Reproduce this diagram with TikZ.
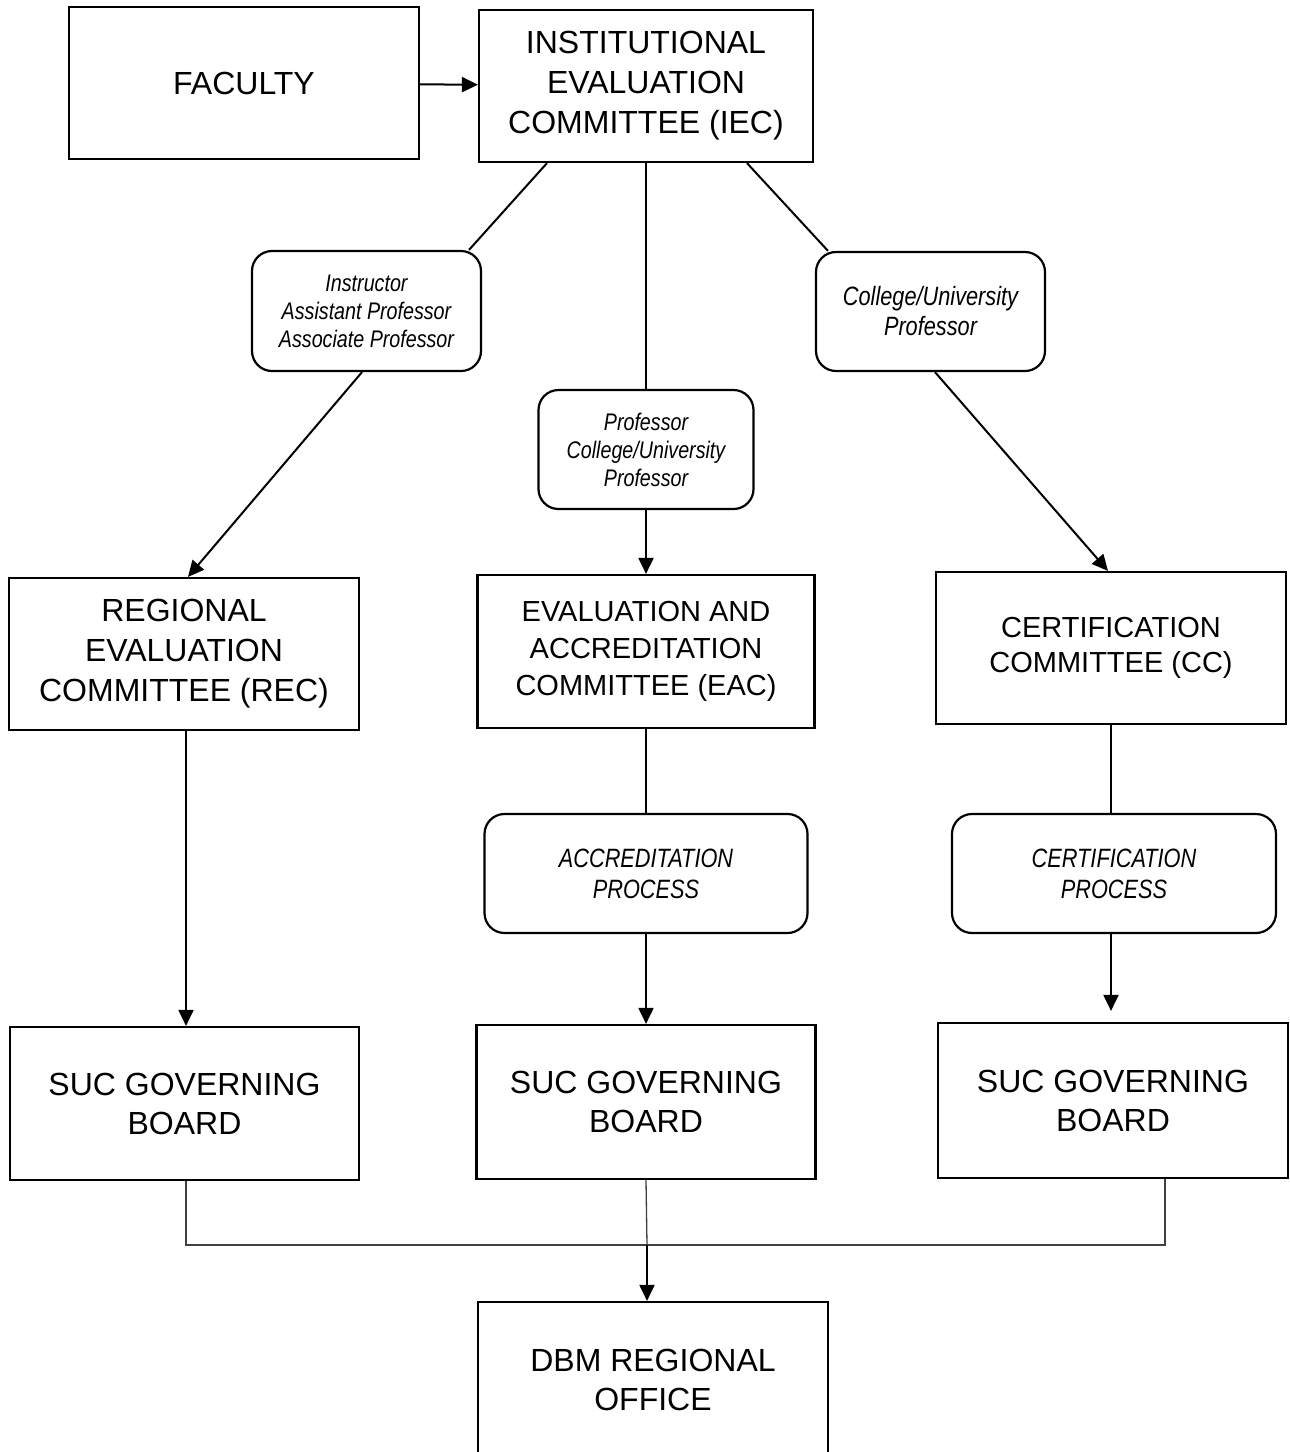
\documentclass[tikz,border=0pt]{standalone}
\usepackage{fontspec}
\setmainfont{Liberation Sans}
\newfontfamily\narrowit[FakeStretch=0.82]{Liberation Sans}
\usetikzlibrary{arrows.meta}
\begin{document}
\begin{tikzpicture}[x=1pt,y=-1pt,
  box/.style={draw, line width=2.2pt, rectangle, inner sep=0pt, align=center},
  rbox/.style={draw, line width=2.2pt, rectangle, rounded corners=20pt, inner sep=0pt, align=center},
  big/.style={font=\fontsize{32}{40}\selectfont},
  mid/.style={font=\fontsize{29}{37}\selectfont},
  lab/.style={font=\narrowit\itshape\fontsize{24}{28}\selectfont},
  labb/.style={font=\narrowit\itshape\fontsize{26.5}{31}\selectfont},
  conn/.style={line width=2pt},
  thinln/.style={line width=1.3pt, draw=black!75},
  arr/.style={-{Triangle[length=16pt,width=15pt]}}
]
\useasboundingbox (0,0) rectangle (1290,1452);
\clip (0,0) rectangle (1290,1452);

\node[box,big,minimum width=350pt,minimum height=152pt] (fac) at (244,83) {FACULTY};
\node[box,big,minimum width=334pt,minimum height=152pt] (iec) at (646,86) {INSTITUTIONAL\\EVALUATION\\COMMITTEE (IEC)};

\node[rbox,lab,minimum width=229pt,minimum height=120pt] (lab1) at (366.5,311) {Instructor\\Assistant Professor\\Associate Professor};
\node[rbox,lab,minimum width=215pt,minimum height=119pt] (lab2) at (646,449.5) {Professor\\College/University\\Professor};
\node[rbox,labb,minimum width=229pt,minimum height=119pt,font=\narrowit\itshape\fontsize{26.5}{30}\selectfont] (lab3) at (930.5,311.5) {College/University\\Professor};

\node[box,big,minimum width=350pt,minimum height=152pt] (rec) at (184,654) {REGIONAL\\EVALUATION\\COMMITTEE (REC)};
\node[box,mid,minimum width=337pt,minimum height=153pt] (eac) at (646,651.5) {EVALUATION AND\\ACCREDITATION\\COMMITTEE (EAC)};
\node[box,mid,minimum width=350pt,minimum height=152pt,font=\fontsize{29}{35}\selectfont] (cc) at (1111,648) {CERTIFICATION\\COMMITTEE (CC)};

\node[rbox,labb,minimum width=323pt,minimum height=119pt] (acc) at (646,873.5) {ACCREDITATION\\PROCESS};
\node[rbox,labb,minimum width=324pt,minimum height=119pt] (cer) at (1114,873.5) {CERTIFICATION\\PROCESS};

\node[box,big,minimum width=349pt,minimum height=153pt,font=\fontsize{32}{39}\selectfont] (suc1) at (184.5,1103.5) {SUC GOVERNING\\BOARD};
\node[box,big,minimum width=339pt,minimum height=154pt,font=\fontsize{32}{39}\selectfont] (suc2) at (646,1102) {SUC GOVERNING\\BOARD};
\node[box,big,minimum width=350pt,minimum height=155pt,font=\fontsize{32}{39}\selectfont] (suc3) at (1113,1100.5) {SUC GOVERNING\\BOARD};

\node[box,big,minimum width=350pt,minimum height=156pt,font=\fontsize{32}{39}\selectfont] (dbm) at (653,1380) {DBM REGIONAL\\OFFICE};

% connectors
\draw[conn,arr] (fac) -- (iec);
\draw[conn] ([xshift=-99pt]iec.south) -- ([xshift=102.5pt]lab1.north);
\draw[conn,arr] ([xshift=-4.5pt]lab1.south) -- ([xshift=4pt]rec.north);
\draw[conn] (iec.south) -- (lab2.north);
\draw[conn,arr] (lab2) -- (eac);
\draw[conn] ([xshift=101pt]iec.south) -- ([xshift=-102.5pt]lab3.north);
\draw[conn,arr] ([xshift=4.5pt]lab3.south) -- ([xshift=-3pt]cc.north);

\draw[conn,arr] ([xshift=2pt]rec.south) -- ([xshift=1.5pt]suc1.north);
\draw[conn] (eac) -- (acc);
\draw[conn,arr] (acc) -- (suc2);
\draw[conn] (cc) -- (cc |- cer.north);
\draw[conn,arr] (cc |- cer.south) -- ([yshift=11pt]cc |- suc3.north);

\coordinate (j) at (647,1245);
\draw[thinln] ([xshift=1.5pt]suc1.south) |- (j) -| ([xshift=52pt]suc3.south);
\draw[thinln] (suc2.south) -- (j);
\draw[conn,arr] (j) -- (j |- dbm.north);
\end{tikzpicture}
\end{document}
